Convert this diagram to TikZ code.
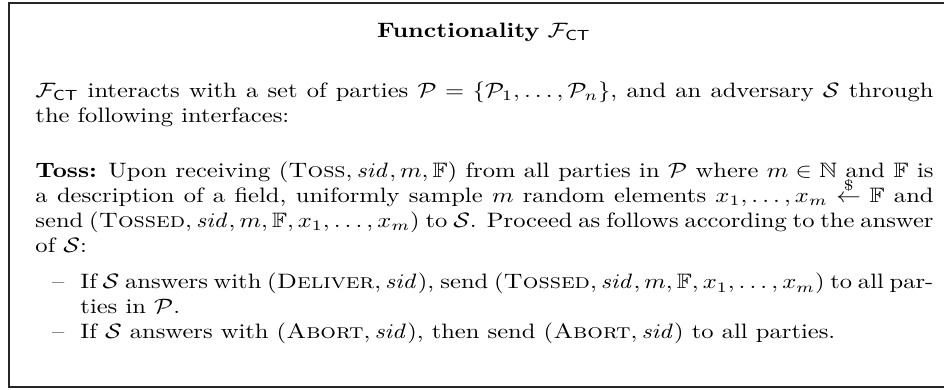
\documentclass[tikz,border=0pt]{standalone}
\usepackage{amsmath,amssymb,amsfonts}
\usetikzlibrary{positioning}

\newcommand{\sidv}{\mathit{sid}}
\newcommand{\FCT}{\mathcal{F}_{\mathsf{CT}}}
\newcommand{\sampled}{\mathrel{\smash{\overset{\$}{\leftarrow}}}}

\begin{document}
\begin{tikzpicture}[x=1pt,y=1pt,
  wide/.style={xscale=1.178,transform shape,inner sep=0pt},
  para/.style={wide,text width=366pt,align=justify,anchor=base west},
  itemtxt/.style={para,text width=347.6pt},
  dashmark/.style={wide,anchor=base east}]
\useasboundingbox (0,0) rectangle (453.2,-187.2);

% frame
\draw[black!85,line width=0.6pt](4.3,-1.4) rectangle (470,-185.8);

% where the lines sit
\coordinate (pTitle) at (232.3,-17.8);
\coordinate (pIntro) at (16.8,-46.6);
\coordinate (pToss) at (16.8,-85.0);
\coordinate (pDeliver) at (38.4,-138.7);
\coordinate (pAbort) at (38.4,-162.3);

% title
\node[wide,anchor=base] (title) at (pTitle) {\textbf{Functionality} $\FCT$};

% intro
\node[para] (intro) at (pIntro) {$\FCT$ interacts with a set of parties
  $\mathcal{P}=\{\mathcal{P}_1,\dots,\mathcal{P}_n\}$, and an adversary $\mathcal{S}$
  through\linebreak the following interfaces:};

% toss
\node[para] (toss) at (pToss) {\textbf{Toss:} Upon receiving $(\textsc{Toss},\sidv,m,\mathbb{F})$
  from all parties in $\mathcal{P}$ where $m\in\mathbb{N}$ and $\mathbb{F}$ is\linebreak a description
  of a field, uniformly sample $m$ random elements $x_1,\dots,x_m\sampled\mathbb{F}$
  and\linebreak send $(\textsc{Tossed},\sidv,m,\mathbb{F},x_1,\dots,x_m)$ to $\mathcal{S}$. Proceed as
  follows according to the answer\linebreak of $\mathcal{S}$:};

% answers
\node[itemtxt] (deliver) at (pDeliver) {If $\mathcal{S}$ answers with $(\textsc{Deliver},\sidv)$,
  send $(\textsc{Tossed},\sidv,m,\mathbb{F},x_1,\dots,x_m)$ to all par-\linebreak ties in $\mathcal{P}$.};
\node[itemtxt] (abort) at (pAbort) {If $\mathcal{S}$ answers with $(\textsc{Abort},\sidv)$,
  then send $(\textsc{Abort},\sidv)$ to all parties.};

\node[dashmark] (dashA) at ([xshift=-7.2pt]deliver.base west) {--};
\node[dashmark] (dashB) at ([xshift=-7.2pt]abort.base west) {--};
\end{tikzpicture}
\end{document}
